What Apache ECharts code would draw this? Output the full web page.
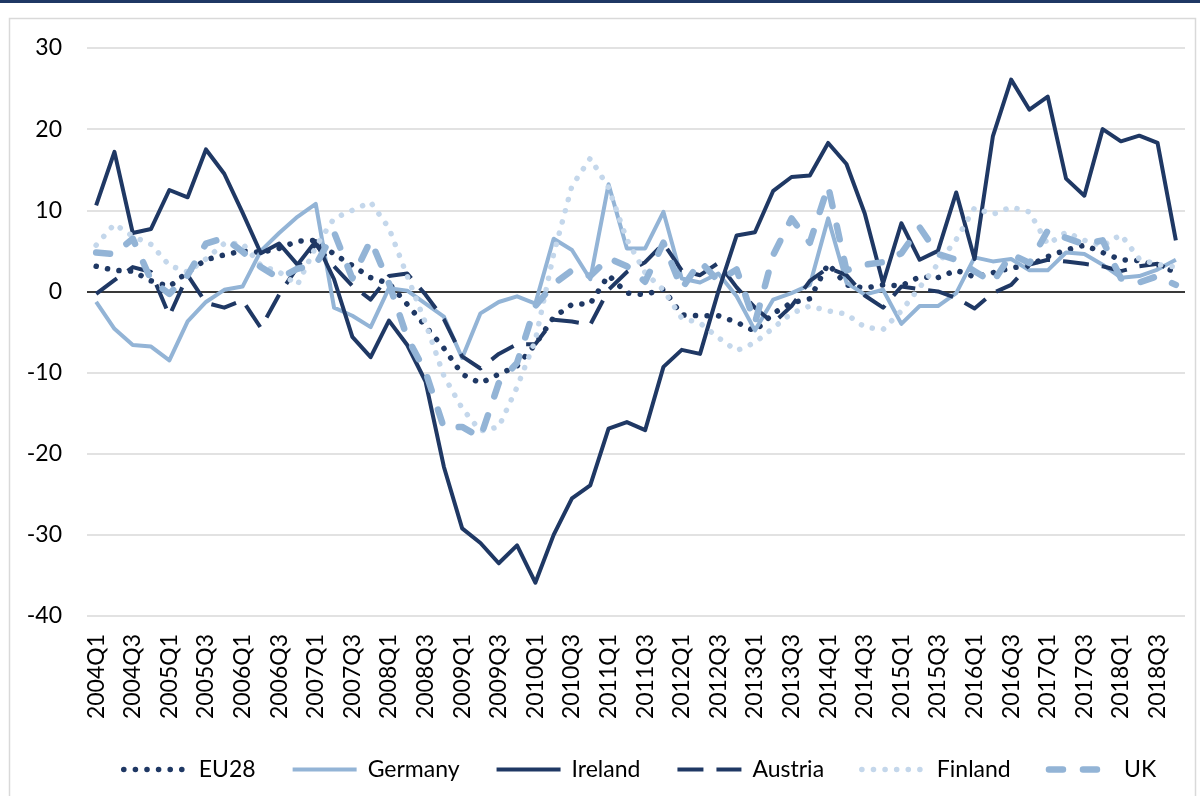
<!DOCTYPE html>
<html>
<head>
<meta charset="utf-8">
<script src="https://cdn.jsdelivr.net/npm/echarts@6/dist/echarts.min.js"></script>
<style>
  html, body { margin: 0; padding: 0; background: #ffffff; }
  #chart { width: 1200px; height: 796px; }
</style>
</head>
<body>
<div id="chart"></div>
<script>
// Quarterly categories 2004Q1 … 2018Q4
const years = [2004, 2005, 2006, 2007, 2008, 2009, 2010, 2011, 2012, 2013, 2014, 2015, 2016, 2017, 2018];
const quarters = ['Q1', 'Q2', 'Q3', 'Q4'];
const categories = [];
years.forEach(y => quarters.forEach(q => categories.push(y + q)));

// Value-axis ticks
const yMin = -40, yMax = 30, yStep = 10;

// Series values (one per quarter)
const eu28 = [3.1, 2.6, 2.5, 1.3, 0.6, 2.4, 3.9, 4.5, 5.0, 4.8,
  5.3, 6.2, 6.3, 4.6, 3.2, 1.7, 1.0, -1.6, -4.3, -7.0,
  -10.2, -11.3, -10.2, -9.2, -6.5, -3.2, -1.6, -1.5, 2.0, -0.2,
  -0.4, 0.3, -2.9, -3.0, -3.0, -3.8, -4.9, -2.7, -1.4, -0.9,
  3.4, 0.8, 0.4, 0.8, 0.7, 1.8, 1.7, 2.6, 1.8, 2.3,
  2.9, 3.2, 4.3, 5.1, 5.7, 4.8, 3.9, 3.8, 3.2, 2.4];

const germany = [-1.3, -4.6, -6.6, -6.8, -8.5, -3.7, -1.3, 0.2, 0.6, 5.0,
  7.2, 9.2, 10.8, -2.0, -3.0, -4.4, 0.4, 0.1, -1.5, -3.1,
  -8.2, -2.7, -1.3, -0.6, -1.5, 6.5, 5.1, 1.5, 13.2, 5.3,
  5.3, 9.8, 1.6, 1.1, 2.2, -0.6, -4.8, -1.0, -0.2, 0.8,
  9.0, 1.1, -0.4, 0.2, -4.0, -1.8, -1.8, -0.2, 4.2, 3.7,
  4.0, 2.6, 2.6, 4.8, 4.6, 3.3, 1.7, 1.9, 2.7, 3.9];

const ireland = [10.6, 17.2, 7.2, 7.7, 12.5, 11.6, 17.5, 14.5, 9.7, 4.7,
  5.9, 3.3, 6.2, 1.5, -5.6, -8.1, -3.6, -6.6, -11.1, -21.6,
  -29.2, -31.0, -33.5, -31.3, -35.9, -30.0, -25.5, -23.9, -16.9, -16.1,
  -17.1, -9.3, -7.2, -7.7, 0.0, 6.9, 7.3, 12.4, 14.1, 14.3,
  18.3, 15.7, 9.6, 1.0, 8.4, 3.9, 5.0, 12.2, 4.0, 19.1,
  26.1, 22.4, 24.0, 13.9, 11.8, 20.0, 18.5, 19.2, 18.3, 6.3];

const austria = [-0.3, 1.4, 3.0, 2.4, -3.0, 2.0, -1.4, -2.0, -1.1, -4.5,
  -0.4, 3.0, 5.8, 3.1, 0.7, -1.0, 1.9, 2.2, -0.4, -3.4,
  -8.0, -9.5, -7.7, -6.5, -6.5, -3.5, -3.7, -4.1, 0.2, 2.4,
  3.6, 5.9, 2.6, 2.0, 3.5, 0.5, -2.0, -3.9, -1.8, 1.3,
  2.9, 2.0, -0.5, -2.0, 0.6, 0.3, 0.0, -0.8, -2.1, -0.2,
  0.8, 3.3, 3.9, 3.7, 3.4, 3.1, 2.5, 3.1, 3.4, 2.4];

const finland = [5.7, 8.3, 6.8, 5.8, 3.2, 2.4, 4.0, 5.9, 5.9, 3.2,
  2.4, 0.8, 5.5, 9.0, 10.0, 11.0, 7.8, 1.9, -3.9, -10.4,
  -14.4, -17.2, -16.7, -11.8, -6.0, 4.6, 13.0, 16.4, 12.8, 6.4,
  2.3, 0.2, -3.3, -3.9, -5.7, -7.3, -6.3, -4.5, -2.7, -1.8,
  -2.4, -2.8, -4.4, -4.7, -2.4, 0.5, 3.4, 6.4, 10.3, 9.5,
  10.4, 9.8, 5.8, 7.3, 6.3, 5.6, 7.0, 4.0, 3.3, 3.0];

const uk = [4.8, 4.6, 6.5, 1.4, -0.3, 2.0, 5.9, 6.6, 4.9, 3.0,
  1.6, 2.8, 3.3, 7.3, 1.6, 6.3, 1.0, -5.7, -9.9, -16.8,
  -16.7, -18.0, -11.3, -8.8, -1.8, 0.9, 2.6, 1.9, 4.1, 3.1,
  1.2, 6.0, 0.3, 3.7, 1.3, 2.7, -3.9, 4.5, 9.0, 6.0,
  13.0, 2.6, 3.3, 3.6, 4.7, 7.9, 4.6, 3.9, 2.5, 1.1,
  4.6, 3.5, 7.5, 6.6, 5.8, 6.3, 1.6, 1.1, 1.9, 0.8];

const NAVY = '#1f3864';
const MID = '#93b4d6';
const PALE = '#c4d7eb';
const FONT = 'Lato, "Open Sans", sans-serif';

// line styles shared by the plot and its legend
const styles = {
  EU28:    { color: NAVY, width: 5.5, type: [0.1, 11.5], cap: 'round' },
  Germany: { color: MID,  width: 4,   type: 'solid',     cap: 'butt' },
  Ireland: { color: NAVY, width: 4,   type: 'solid',     cap: 'butt' },
  Austria: { color: NAVY, width: 4,   type: [26, 13],    cap: 'butt' },
  Finland: { color: PALE, width: 5.5, type: [0.1, 11.5], cap: 'round' },
  UK:      { color: MID,  width: 6.5, type: [14, 20],    cap: 'round' }
};

function lineSeries(name, data, z) {
  const s = styles[name];
  return {
    name: name,
    type: 'line',
    data: data,
    symbol: 'none',
    z: z,
    lineStyle: { color: s.color, width: s.width, type: s.type, cap: s.cap, join: 'round' },
    itemStyle: { color: s.color },
    emphasis: { disabled: true }
  };
}

const series = [
  lineSeries('EU28', eu28, 3),
  lineSeries('Germany', germany, 4),
  lineSeries('Ireland', ireland, 5),
  lineSeries('Austria', austria, 6),
  lineSeries('Finland', finland, 7),
  lineSeries('UK', uk, 8)
];

// zero reference line
series[0].markLine = {
  silent: true,
  symbol: 'none',
  label: { show: false },
  lineStyle: { color: '#000000', width: 1.5, type: 'solid' },
  data: [{ yAxis: 0 }],
  z: 2
};

const legendNames = ['EU28', 'Germany', 'Ireland', 'Austria', 'Finland', 'UK'];

const chart = echarts.init(document.getElementById('chart'), null, { renderer: 'canvas' });
chart.setOption({
  backgroundColor: '#ffffff',
  animation: false,
  textStyle: { fontFamily: FONT },
  graphic: [
    { type: 'rect', shape: { x: 0, y: 0, width: 1200, height: 3 }, style: { fill: NAVY }, silent: true },
    { type: 'rect', shape: { x: 9.5, y: 18.5, width: 1186, height: 800 }, style: { fill: 'none', stroke: '#d9d9d9', lineWidth: 1.5 }, silent: true }
  ],
  grid: { left: 87, right: 15, top: 48, bottom: 180, containLabel: false },
  legend: {
    data: legendNames.map(n => ({
      name: n,
      itemStyle: { opacity: 0 },
      lineStyle: { color: styles[n].color, width: styles[n].width, type: styles[n].type, cap: styles[n].cap }
    })),
    left: 116,
    top: 753,
    itemWidth: 64,
    itemHeight: 14,
    itemGap: 35,
    textStyle: { fontSize: 23, color: '#000000', fontFamily: FONT, padding: [0, 0, 0, 6] },
    selectedMode: false
  },
  xAxis: {
    type: 'category',
    data: categories,
    boundaryGap: true,
    axisLine: { show: false },
    axisTick: { show: false },
    splitLine: { show: false },
    axisLabel: {
      interval: 1,
      rotate: 90,
      margin: 18,
      fontSize: 23,
      color: '#000000',
      fontFamily: FONT
    }
  },
  yAxis: {
    type: 'value',
    min: yMin,
    max: yMax,
    interval: yStep,
    axisLine: { show: false },
    axisTick: { show: false },
    axisLabel: { fontSize: 23, color: '#000000', margin: 25, fontFamily: FONT },
    splitLine: { lineStyle: { color: '#d9d9d9', width: 1.5 } }
  },
  series: series
});
</script>
</body>
</html>
